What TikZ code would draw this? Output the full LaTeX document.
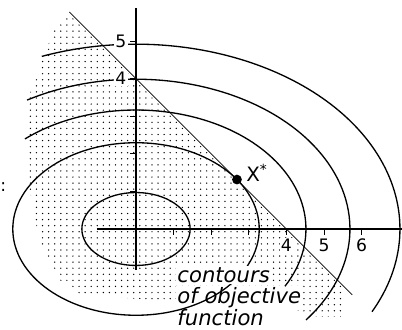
\documentclass[tikz,border=0pt]{standalone}
\usepackage{fontspec}
\setmainfont{DejaVu Sans}
\usepackage{tikz}
\usetikzlibrary{positioning,patterns.meta}

\begin{document}
\begin{tikzpicture}[
    every node/.style={font=\fontsize{13}{15}\selectfont},
    axis/.style={line width=0.9pt},
    tick/.style={line width=0.7pt},
    contour/.style={line width=1pt},
    constr/.style={line width=0.6pt},
    feasible/.style={pattern={Dots[distance=4.6pt,radius=0.55pt]}, pattern color=black},
    num/.style={fill=white, inner sep=1pt},
    optdot/.style={circle, fill, inner sep=0pt, minimum size=2.6mm},
    caption/.style={font=\fontsize{16}{17}\selectfont\itshape, fill=white,
                    inner sep=1pt, anchor=base west},
]
  \useasboundingbox (-3.617,-2.66) rectangle (7.074,6.09);
  % Feasible region x+y<=4 (dotted)
  \fill[feasible] (-1.77,5.77) -- (5.58,-1.58) -- (5.45,-2.33) -- (4.62,-2.33)
    -- (3.8,-1.9) -- (0.9,-1.91) -- (-1.49,-1.76) -- (-2.02,-1.36) -- (-2.29,-0.90)
    -- (-2.50,-0.43) -- (-2.69,0.24) -- (-2.82,1.04) -- (-2.90,1.84) -- (-2.95,2.63)
    -- (-2.90,3.43) -- (-2.63,4.04) -- (-2.47,4.57) -- (-2.15,5.35) -- (-1.94,5.56)
    -- cycle;
  % Caption (the contour runs over these lines)
  \node[caption] (cap2) at (1.06,-1.99) {of objective};
  \node[caption] (cap3) at ([yshift=-16.5pt]cap2.base west) {function};
  % Axes
  \coordinate (xmin) at (-1.04,0);
  \coordinate (xmax) at (7.074,0);
  \coordinate (ymin) at (0,-1.09);
  \coordinate (ymax) at (0,5.88);
  \draw[axis] (xmin) -- (xmax);
  \draw[axis] (ymin) -- (ymax);
  \foreach \k in {1,...,6} \draw[tick] (\k,0) -- (\k,-0.15);
  \foreach \k in {1,...,5} \draw[tick] (0,\k) -- (-0.15,\k);
  % Contours of objective function
  \draw[contour] (0,0) ellipse [x radius=1.44, y radius=0.97];
  \draw[contour] (0,0) ellipse [x radius=3.277, y radius=2.294];
  \foreach \a/\b/\s/\e in {4.52/3.164/130.8/-28.8, 5.69/3.983/120.6/-37.4,
                           7.02/4.914/110.9/-26.6}
    \draw[contour] (\s:\a cm and \b cm)
      arc [start angle=\s, end angle=\e, x radius=\a, y radius=\b];
  % Constraint line
  \draw[constr] (-1.77,5.77) -- (5.75,-1.75);
  \node[caption] (cap1) at ([yshift=16.5pt]cap2.base west) {contours};
  % Optimum
  \node[optdot] (opt) at (2.685,1.315) {};
  \node[right=3pt of opt, yshift=5pt, inner sep=0pt, font=\fontsize{15}{17}\selectfont]
    (optlbl) {X\textsuperscript{*}};
  % Labels
  \foreach \k in {4,5,6} \node[num] (xl\k) at (\k,-0.44) {\k};
  \foreach \k in {4,5} \node[num] (yl\k) at (-0.4,\k) {\k};
  \node[anchor=west, inner sep=0pt] (colon) at (-3.617,1.12) {:};
\end{tikzpicture}
\end{document}
